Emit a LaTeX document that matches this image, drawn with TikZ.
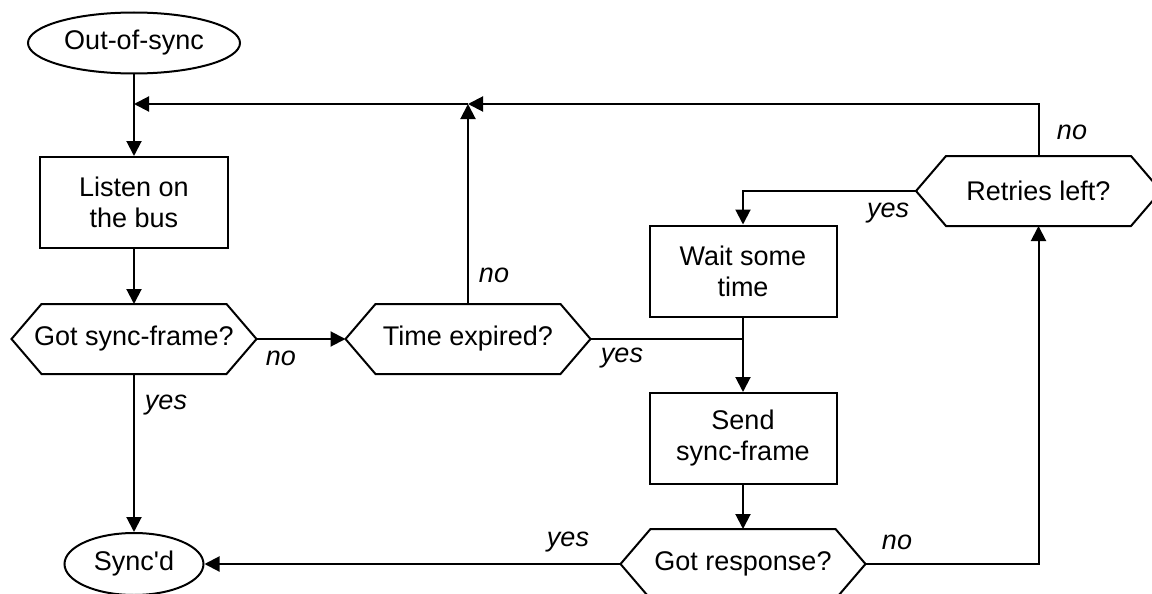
\documentclass[tikz,border=0pt]{standalone}
\usepackage{fontspec}
\newfontfamily\chartfont{Liberation Sans}
\usetikzlibrary{arrows.meta,shapes.geometric}

\tikzset{
  base/.style={font=\chartfont\fontsize{27}{31}\selectfont, align=center, inner sep=0pt, line width=2pt},
  terminal/.style={base, ellipse, draw},
  process/.style={base, rectangle, draw, minimum width=187pt, minimum height=91pt},
  decision/.style={base, rectangle, minimum width=243pt, minimum height=68pt},
  flow/.style={line width=2pt, -{Triangle[length=15pt,width=15pt]}},
  link/.style={line width=2pt},
  answer/.style={font=\chartfont\fontsize{27}{31}\selectfont\itshape, inner sep=0pt}
}

% outline of a hexagonal decision box around a decision node
\newcommand{\hexframe}[1]{%
  \draw[line width=2pt] (#1.west) -- ([xshift=30pt]#1.north west) -- ([xshift=-30pt]#1.north east)
    -- (#1.east) -- ([xshift=-30pt]#1.south east) -- ([xshift=30pt]#1.south west) -- cycle;}

\begin{document}
\begin{tikzpicture}[x=1pt, y=-1pt]
\path[use as bounding box, clip] (0,0) rectangle (1152,594);
\fill[white] (0,0) rectangle (1152,594);

% states and steps
\node[terminal, minimum width=212pt, minimum height=61pt] (outsync) at (134,43) {Out-of-sync};
\node[process, minimum width=188pt] (listen) at (134,202.5) {Listen on\\the bus};
\node[decision] (gotsync) at (134,339) {Got sync-frame?};
\node[decision] (timeexp) at (468,339) {Time expired?};
\node[process] (wait) at (743,271) {Wait some\\time};
\node[process] (send) at (743,438.5) {Send\\sync-frame};
\node[decision] (retries) at (1038.5,191) {Retries left?};
\node[decision] (gotresp) at (743,564) {Got response?};
\node[terminal, minimum width=139pt, minimum height=62pt] (syncd) at (134,564) {Sync'd};

\hexframe{gotsync}
\hexframe{timeexp}
\hexframe{retries}
\hexframe{gotresp}

% junction points of the loop-back lines
\coordinate (jA) at (468,104);
\coordinate (jB) at (134,104);
\coordinate (jC) at (743,339);

% connectors
\draw[flow] (outsync.south) -- (listen.north);
\draw[flow] (listen.south) -- (gotsync.north);
\draw[flow] (gotsync.south) -- (syncd.north);
\draw[flow] (gotsync.east) -- (timeexp.west);
\draw[flow] (timeexp.north) -- (jA);
\draw[flow] (retries.north) |- (jA);
\draw[flow] (jA) -- (jB);
\draw[flow] (retries.west) -| (wait.north);
\draw[flow] (wait.south) -- (send.north);
\draw[link] (timeexp.east) -- (jC);
\draw[flow] (send.south) -- (gotresp.north);
\draw[flow] (gotresp.west) -- (syncd.east);
\draw[flow] (gotresp.east) -| (retries.south);

% branch labels
\node[answer] (l1) at (166,405) {yes};
\node[answer] (l2) at (281,358) {no};
\node[answer] (l3) at (494,275) {no};
\node[answer] (l4) at (1072,132) {no};
\node[answer] (l5) at (888,213) {yes};
\node[answer] (l6) at (622,358) {yes};
\node[answer] (l7) at (568,542) {yes};
\node[answer] (l8) at (897,542) {no};
\end{tikzpicture}
\end{document}
